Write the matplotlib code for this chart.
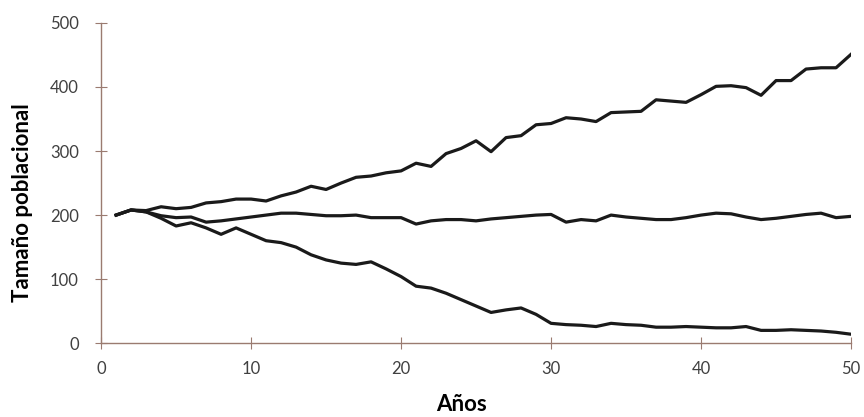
import matplotlib
matplotlib.use('Agg')
import matplotlib.pyplot as plt

years = list(range(1, 51))

creciente = [200, 208, 207, 213, 210, 212, 219, 221, 225, 225,
             222, 230, 236, 245, 240, 250, 259, 261, 266, 269,
             281, 276, 296, 304, 316, 299, 321, 324, 341, 343,
             352, 350, 346, 360, 361, 362, 380, 378, 376, 388,
             401, 402, 399, 387, 410, 410, 428, 430, 430, 451]

estable = [200, 208, 205, 199, 196, 197, 189, 191, 194, 197,
           200, 203, 203, 201, 199, 199, 200, 196, 196, 196,
           186, 191, 193, 193, 191, 194, 196, 198, 200, 201,
           189, 193, 191, 200, 197, 195, 193, 193, 196, 200,
           203, 202, 197, 193, 195, 198, 201, 203, 196, 198]

decreciente = [200, 208, 205, 195, 183, 188, 180, 170, 180, 170,
               160, 157, 150, 138, 130, 125, 123, 127, 116, 104,
               89, 86, 78, 68, 58, 48, 52, 55, 45, 31,
               29, 28, 26, 31, 29, 28, 25, 25, 26, 25,
               24, 24, 26, 20, 20, 21, 20, 19, 17, 14]

plt.rcParams['font.family'] = ['Lato', 'DejaVu Sans']

fig = plt.figure(figsize=(8.64, 4.17), dpi=100)
ax = fig.add_axes([0.117, 0.177, 0.868, 0.768])

for serie in (creciente, estable, decreciente):
    ax.plot(years, serie, color='#1a1a1a', lw=2.3, solid_joinstyle='round')

ax.set_xlim(0, 50)
ax.set_ylim(0, 500)
ax.set_xticks(range(0, 51, 10))
ax.set_yticks(range(0, 501, 100))

axis_color = '#9a7b70'
for s in ('top', 'right'):
    ax.spines[s].set_visible(False)
for s in ('left', 'bottom'):
    ax.spines[s].set_color(axis_color)
    ax.spines[s].set_linewidth(1.0)
ax.tick_params(direction='inout', length=8, color=axis_color,
               labelsize=12, labelcolor='#404040')
ax.tick_params(axis='x', pad=9)
ax.tick_params(axis='y', pad=12)

ax.set_xlabel('Años', fontsize=16, fontweight='bold')
ax.set_ylabel('Tamaño poblacional', fontsize=16, fontweight='bold')
ax.xaxis.set_label_coords(0.481, -0.158)
ax.yaxis.set_label_coords(-0.091, 0.4375)

fig.savefig('out.png', dpi=100)
